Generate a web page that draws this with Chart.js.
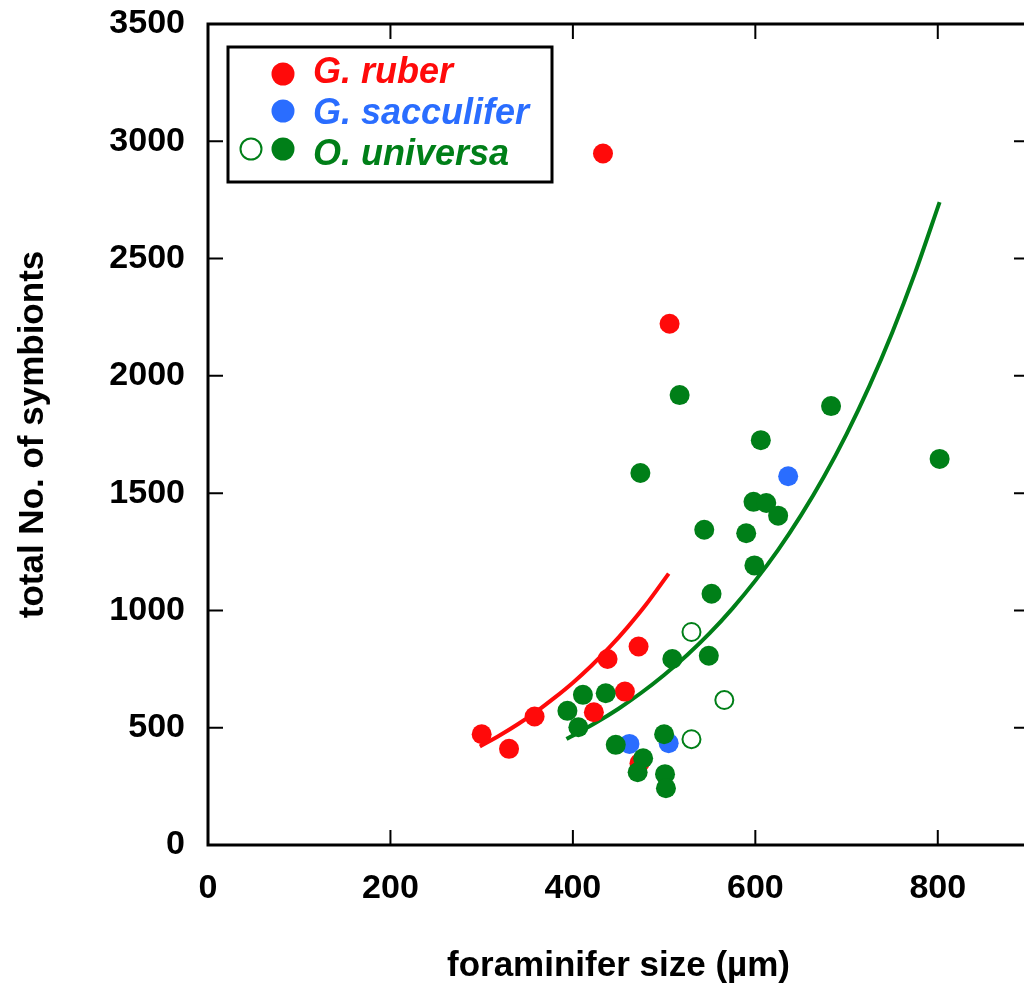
<!DOCTYPE html>
<html lang="en">
<head>
<meta charset="UTF-8">
<script src="https://cdn.jsdelivr.net/npm/chart.js@4.4.1/dist/chart.umd.min.js"></script>
<title>Symbionts vs foraminifer size</title>
<style>
  html, body { margin: 0; padding: 0; background: #fff; overflow: hidden; }
  #wrap { width: 1040px; height: 991px; }
</style>
</head>
<body>
<div id="wrap"><canvas id="myChart" width="1040" height="991"></canvas></div>
<script>
// values
const rubX = [300, 330, 358, 423, 438, 457, 472, 473, 433, 506];
const rubY = [472, 410, 548, 566, 793, 654, 846, 349, 2948, 2222];

const sacX = [462, 505, 636];
const sacY = [431, 434, 1572];

const uniX = [394, 411, 436, 406, 447, 477, 471, 509, 549, 500, 501, 502, 517, 606, 474, 598, 612, 625, 544, 590, 599, 552, 683, 802];
const uniY = [572, 640, 647, 502, 427, 370, 310, 793, 807, 472, 302, 242, 1918, 1726, 1586, 1463, 1458, 1404, 1344, 1329, 1192, 1071, 1871, 1646];

// open circles (O. universa)
const uniOpenX = [530, 566, 530];
const uniOpenY = [908, 618, 451];

// fitted curves
const rubFitX = [298, 320, 340, 360, 380, 400, 420, 440, 460, 480, 505];
const rubFitY = [420, 468, 516, 569, 628, 692, 763, 842, 929, 1024, 1157];
const uniFitX = [393, 425, 450, 475, 500, 525, 550, 575, 600, 625, 650, 675, 700, 725, 750, 775, 802];
const uniFitY = [452, 521, 581, 649, 725, 809, 903, 1009, 1127, 1258, 1405, 1569, 1752, 1956, 2184, 2438, 2741];

const xTicks = [0, 200, 400, 600, 800];
const yTicks = [0, 500, 1000, 1500, 2000, 2500, 3000, 3500];

const RED = '#ff0a0a';
const BLUE = '#2a6dff';
const GREEN = '#007f18';

function pts(xs, ys) {
    return xs.map((x, i) => ({ x: x, y: ys[i] }));
}

// frame on all four sides with inward ticks + legend box
const framePlugin = {
    id: 'frame',
    afterDraw(chart) {
        const ctx = chart.ctx;
        const a = chart.chartArea;
        const xs = chart.scales.x, ys = chart.scales.y;
        const tl = 15;
        ctx.save();
        ctx.strokeStyle = '#000';
        ctx.lineWidth = 2;
        ctx.beginPath();
        xTicks.forEach(v => {
            const px = xs.getPixelForValue(v);
            ctx.moveTo(px, a.bottom); ctx.lineTo(px, a.bottom - tl);
            ctx.moveTo(px, a.top); ctx.lineTo(px, a.top + tl);
        });
        yTicks.forEach(v => {
            const py = ys.getPixelForValue(v);
            ctx.moveTo(a.left, py); ctx.lineTo(a.left + tl, py);
            ctx.moveTo(a.right, py); ctx.lineTo(a.right - tl, py);
        });
        ctx.stroke();
        ctx.lineWidth = 3;
        ctx.strokeRect(a.left, a.top, a.right - a.left, a.bottom - a.top);

        // legend
        ctx.lineWidth = 3;
        ctx.strokeRect(228, 47, 324, 135);
        const items = [
            { text: 'G. ruber', color: RED, cy: 74, base: 83 },
            { text: 'G. sacculifer', color: BLUE, cy: 111, base: 124 },
            { text: 'O. universa', color: GREEN, cy: 149, base: 165 }
        ];
        ctx.font = 'italic bold 36px "Liberation Sans", Arial, sans-serif';
        ctx.textBaseline = 'alphabetic';
        ctx.textAlign = 'left';
        items.forEach(it => {
            ctx.fillStyle = it.color;
            ctx.beginPath();
            ctx.arc(283, it.cy, 11.5, 0, Math.PI * 2);
            ctx.fill();
            ctx.fillText(it.text, 313, it.base);
        });
        ctx.strokeStyle = GREEN;
        ctx.lineWidth = 2;
        ctx.beginPath();
        ctx.arc(251, 149, 10.5, 0, Math.PI * 2);
        ctx.stroke();
        ctx.restore();
    }
};

const tickFont = { family: '"Liberation Sans", Arial, sans-serif', size: 34, weight: 'bold' };
const titleFont = { family: '"Liberation Sans", Arial, sans-serif', size: 35, weight: 'bold' };

const ctx = document.getElementById('myChart').getContext('2d');
const myChart = new Chart(ctx, {
    type: 'scatter',
    data: {
        datasets: [
            {
                label: 'O. universa open',
                data: pts(uniOpenX, uniOpenY),
                pointRadius: 9,
                pointBackgroundColor: '#fff',
                pointBorderColor: GREEN,
                pointBorderWidth: 2,
                order: 0
            },
            {
                label: 'O. universa',
                data: pts(uniX, uniY),
                pointRadius: 10,
                pointBackgroundColor: GREEN,
                pointBorderWidth: 0,
                order: 1
            },
            {
                label: 'G. sacculifer',
                data: pts(sacX, sacY),
                pointRadius: 10,
                pointBackgroundColor: BLUE,
                pointBorderWidth: 0,
                order: 2
            },
            {
                label: 'G. ruber',
                data: pts(rubX, rubY),
                pointRadius: 10,
                pointBackgroundColor: RED,
                pointBorderWidth: 0,
                order: 3
            },
            {
                type: 'line',
                label: 'G. ruber fit',
                data: pts(rubFitX, rubFitY),
                borderColor: RED,
                borderWidth: 4,
                pointRadius: 0,
                cubicInterpolationMode: 'monotone',
                fill: false,
                order: 4
            },
            {
                type: 'line',
                label: 'O. universa fit',
                data: pts(uniFitX, uniFitY),
                borderColor: GREEN,
                borderWidth: 4,
                pointRadius: 0,
                cubicInterpolationMode: 'monotone',
                fill: false,
                order: 4
            }
        ]
    },
    options: {
        responsive: false,
        animation: false,
        events: [],
        layout: { padding: { top: 24, right: 9, left: 0, bottom: 0 } },
        plugins: {
            legend: { display: false },
            tooltip: { enabled: false }
        },
        scales: {
            x: {
                type: 'linear',
                min: 0,
                max: 900,
                grid: { display: false },
                border: { display: false },
                afterBuildTicks: s => { s.ticks = xTicks.map(v => ({ value: v })); },
                afterFit: s => { s.height = 146; s.paddingLeft = 0; s.paddingRight = 0; },
                ticks: { color: '#000', font: tickFont, padding: 15, maxRotation: 0, callback: v => String(v) },
                title: {
                    display: true,
                    text: 'foraminifer size (µm)',
                    color: '#000',
                    font: titleFont,
                    padding: { top: 0, bottom: 4 }
                }
            },
            y: {
                type: 'linear',
                min: 0,
                max: 3500,
                grid: { display: false },
                border: { display: false },
                afterBuildTicks: s => { s.ticks = yTicks.map(v => ({ value: v })); },
                afterFit: s => { s.width = 208; s.paddingTop = 0; s.paddingBottom = 0; },
                ticks: { color: '#000', font: tickFont, padding: 15, callback: v => String(v) },
                title: {
                    display: true,
                    text: 'total No. of symbionts',
                    color: '#000',
                    font: titleFont,
                    padding: { top: 12, bottom: 0 }
                }
            }
        }
    },
    plugins: [framePlugin]
});
</script>
</body>
</html>
